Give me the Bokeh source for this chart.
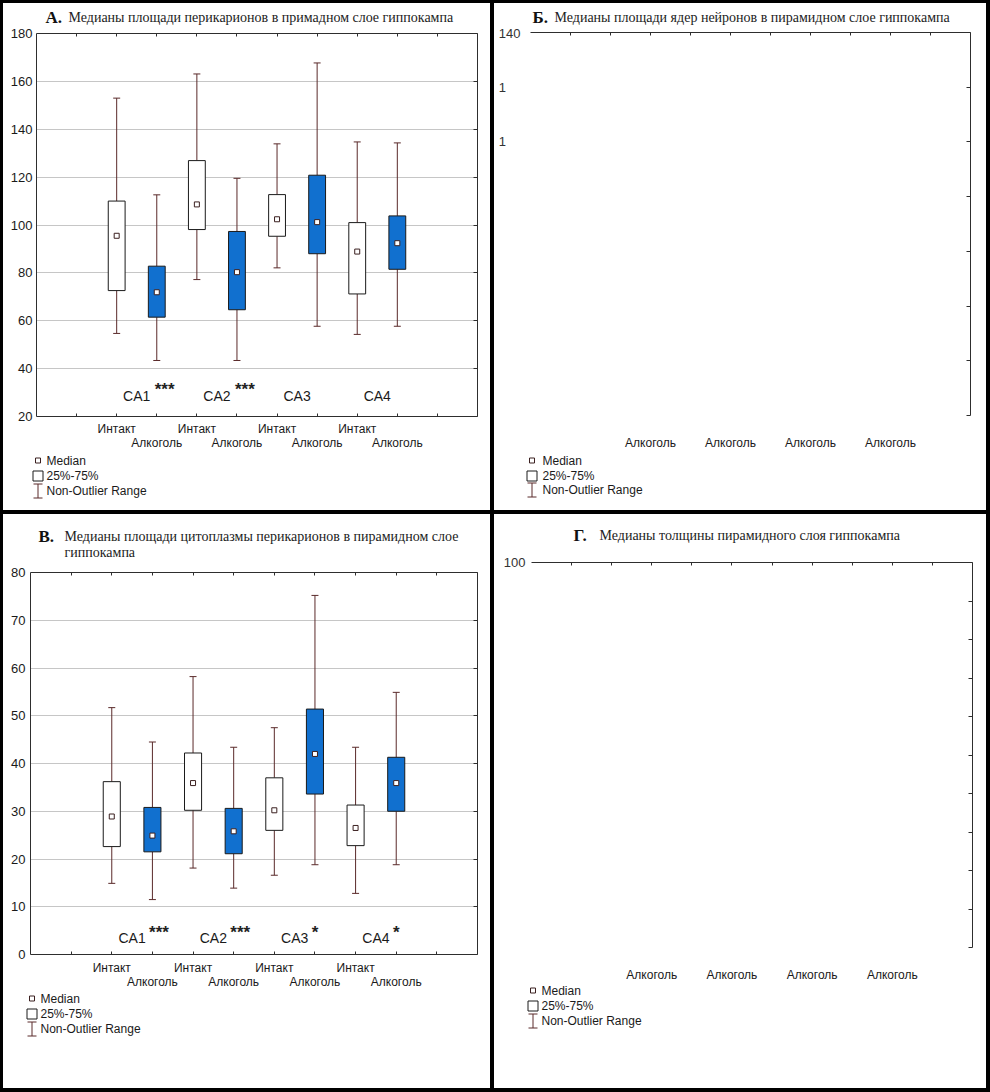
from bokeh.plotting import figure
from bokeh.models import Range1d, LinearAxis, FixedTicker, ColumnDataSource, Grid
from bokeh.layouts import row, column
from bokeh.embed import file_html
from bokeh.resources import INLINE
from bokeh.core.properties import value

# ---------------- data ----------------
groups = ["Интакт", "Алкоголь", "Интакт", "Алкоголь", "Интакт", "Алкоголь", "Интакт", "Алкоголь"]
regions = ["CA1", "CA2", "CA3", "CA4"]
box_x = [2, 3, 4, 5, 6, 7, 8, 9]
x_ticks = [1, 2, 3, 4, 5, 6, 7, 8, 9, 10]

# Panel A
a_letter = "А."
a_title = ["Медианы площади перикарионов в примадном слое гиппокампа"]
a_low = [54.7, 43.4, 77.2, 43.4, 82.1, 57.7, 54.3, 57.7]
a_q1 = [72.6, 61.5, 98.1, 64.6, 95.3, 88.0, 71.2, 81.5]
a_med = [95.5, 71.9, 108.6, 80.3, 102.4, 101.2, 88.9, 92.4]
a_q3 = [110.0, 82.8, 126.9, 97.3, 112.7, 120.8, 101.0, 103.8]
a_high = [153.0, 112.6, 163.1, 119.5, 133.9, 167.7, 134.7, 134.3]
a_stars = ["***", "***", "", ""]
a_yticks = [20, 40, 60, 80, 100, 120, 140, 160, 180]

# Panel Б (its content is missing in the source image)
b_letter = "Б."
b_title = ["Медианы площади ядер нейронов в пирамидном слое гиппокампа"]
b_yticks = [0, 20, 40, 60, 80, 100, 120, 140]
b_yfragments = ["", "", "", "", "", "1", "1", "140"]

# Panel В
c_letter = "В."
c_title = ["Медианы площади цитоплазмы перикарионов в пирамидном слое", "гиппокампа"]
c_low = [14.9, 11.5, 18.1, 13.9, 16.6, 18.8, 12.8, 18.8]
c_q1 = [22.6, 21.5, 30.2, 21.1, 26.0, 33.6, 22.8, 30.0]
c_med = [28.9, 24.9, 35.9, 25.8, 30.2, 42.0, 26.5, 35.9]
c_q3 = [36.2, 30.8, 42.2, 30.6, 37.0, 51.4, 31.3, 41.3]
c_high = [51.7, 44.5, 58.2, 43.4, 47.5, 75.2, 43.4, 54.9]
c_stars = ["***", "***", "*", "*"]
c_yticks = [0, 10, 20, 30, 40, 50, 60, 70, 80]

# Panel Г (its content is missing in the source image)
d_letter = "Г."
d_title = ["Медианы толщины пирамидного слоя гиппокампа"]
d_yticks = [0, 10, 20, 30, 40, 50, 60, 70, 80, 90, 100]
d_yfragments = ["", "", "", "", "", "", "", "", "", "", "100"]

legend_labels = ["Median", "25%-75%", "Non-Outlier Range"]

# ---------------- styles ----------------
LINE = "#2e2e2e"
GRID = "#c6c6c6"
WHISK = "#5a2a2a"
BOX_LINE = "#1a1a1a"
MED_LINE = "#3b2020"
BLUE = "#1170cf"
TXT = "#1a1a1a"
SANS = "Liberation Sans"
SERIF = "Liberation Serif"


def no_outline(p):
    p.outline_line_color = None
    p.outline_line_alpha = 0
    p.outline_line_width = 0
    return p


def blank(W, H):
    p = figure(width=W, height=H, x_range=Range1d(0, W), y_range=Range1d(H, 0),
               x_axis_type=None, y_axis_type=None, output_backend="svg",
               toolbar_location=None, min_border=0, min_border_left=0, min_border_right=0,
               min_border_top=0, min_border_bottom=0, frame_align=False,
               background_fill_color="white", border_fill_color="white")
    return no_outline(p)


def header(W, H, letter, lines, x_letter, x_text, ys):
    p = blank(W, H)
    p.text(x=[x_letter], y=[ys[0]], text=[letter], text_align="left", text_baseline="middle",
           text_font=value(SERIF), text_font_size="17px", text_font_style="bold",
           text_color="#111111")
    p.text(x=[x_text] * len(lines), y=ys, text=lines, text_align="left",
           text_baseline="middle", text_font=value(SERIF), text_font_size="14px",
           text_color="#222222")
    return p


def footer(W, H, sx, tx, ys):
    p = blank(W, H)
    sx = sx + 0.5
    p.scatter(x=[sx], y=[ys[0]], marker="square", size=5, fill_color="white",
              line_color=MED_LINE, line_width=1)
    p.rect(x=[sx], y=[ys[1] + 0.5], width=10, height=10, fill_color="white",
           line_color=BOX_LINE, line_width=1)
    yw = ys[2] + 0.5
    p.segment(x0=[sx, sx - 4.5, sx - 4.5], y0=[yw - 7, yw - 7, yw + 7],
              x1=[sx, sx + 4.5, sx + 4.5], y1=[yw + 7, yw - 7, yw + 7],
              line_color=WHISK, line_width=1)
    p.text(x=[tx] * 3, y=ys, text=legend_labels, text_align="left", text_baseline="middle",
           text_font=value(SANS), text_font_size="12px", text_color=TXT)
    return p


def main(W, H, bl, br, bt, bb, yticks, grid=True, left_labels=None, left_standoff=4,
         intact=True, int_standoff=5, alk_standoff=-3):
    p = figure(width=W, height=H, x_range=Range1d(0, 11),
               y_range=Range1d(yticks[0], yticks[-1]),
               x_axis_type=None, y_axis_type=None, output_backend="svg",
               toolbar_location=None, min_border_left=bl, min_border_right=br,
               min_border_top=bt, min_border_bottom=bb, frame_align=False,
               background_fill_color="white", border_fill_color="white")
    no_outline(p)
    if grid:
        p.add_layout(Grid(dimension=1, ticker=FixedTicker(ticks=yticks),
                          grid_line_color=GRID, grid_line_width=1))
    top = LinearAxis(ticker=FixedTicker(ticks=x_ticks), axis_line_color=LINE,
                     major_tick_line_color=LINE, major_tick_in=3, major_tick_out=0,
                     minor_tick_line_color=None, major_label_text_font_size="0px",
                     major_label_overrides={t: "" for t in x_ticks},
                     major_label_standoff=0)
    p.add_layout(top, "above")
    right = LinearAxis(ticker=FixedTicker(ticks=yticks), axis_line_color=LINE,
                       major_tick_line_color=LINE, major_tick_in=4, major_tick_out=0,
                       minor_tick_line_color=None, major_label_text_font_size="0px",
                       major_label_overrides={t: "" for t in yticks},
                       major_label_standoff=0)
    p.add_layout(right, "right")
    if left_labels is None:
        lax = LinearAxis(ticker=FixedTicker(ticks=yticks), axis_line_color=LINE,
                         major_tick_line_color=None, major_tick_in=0, major_tick_out=0,
                         minor_tick_line_color=None, major_label_text_font=SANS,
                         major_label_text_font_size="13px", major_label_text_color=TXT,
                         major_label_standoff=left_standoff)
    else:
        ov = {}
        for t, f in zip(yticks, left_labels):
            ov[t] = (f + "\u2007" * (3 - len(f))) if f else ""
        lax = LinearAxis(ticker=FixedTicker(ticks=yticks), axis_line_color=None,
                         major_tick_line_color=None, major_tick_in=0, major_tick_out=0,
                         minor_tick_line_color=None, major_label_overrides=ov,
                         major_label_text_font=SANS, major_label_text_font_size="13px",
                         major_label_text_color="#333333",
                         major_label_standoff=left_standoff)
    p.add_layout(lax, "left")
    if intact:
        ov = {t: "" for t in x_ticks}
        for xx, g in zip(box_x, groups):
            if g == "Интакт":
                ov[xx] = g
        ax1 = LinearAxis(ticker=FixedTicker(ticks=x_ticks), major_label_overrides=ov,
                         axis_line_color=LINE, major_tick_line_color=LINE,
                         major_tick_in=3, major_tick_out=0, minor_tick_line_color=None,
                         major_label_text_font=SANS, major_label_text_font_size="12px",
                         major_label_text_color=TXT, major_label_standoff=int_standoff)
        p.add_layout(ax1, "below")
    alk_x = [xx for xx, g in zip(box_x, groups) if g == "Алкоголь"]
    ax2 = LinearAxis(ticker=FixedTicker(ticks=alk_x),
                     major_label_overrides={xx: "Алкоголь" for xx in alk_x},
                     axis_line_color=None, major_tick_line_color=None,
                     major_tick_in=0, major_tick_out=0, minor_tick_line_color=None,
                     major_label_text_font=SANS, major_label_text_font_size="12px",
                     major_label_text_color=TXT, major_label_standoff=alk_standoff)
    p.add_layout(ax2, "below")
    return p


def boxes(p, lo, q1, med, q3, hi):
    fills = [BLUE if g == "Алкоголь" else "white" for g in groups]
    src = ColumnDataSource(dict(x=box_x, lo=lo, q1=q1, med=med, q3=q3, hi=hi, fill=fills))
    p.segment(x0="x", y0="q3", x1="x", y1="hi", source=src, line_color=WHISK, line_width=1)
    p.segment(x0="x", y0="lo", x1="x", y1="q1", source=src, line_color=WHISK, line_width=1)
    p.scatter(x="x", y="hi", source=src, marker="dash", size=7, line_color=WHISK, line_width=1)
    p.scatter(x="x", y="lo", source=src, marker="dash", size=7, line_color=WHISK, line_width=1)
    p.vbar(x="x", width=0.42, bottom="q1", top="q3", source=src, fill_color="fill",
           line_color=BOX_LINE, line_width=1)
    p.scatter(x="x", y="med", source=src, marker="square", size=5, fill_color="white",
              line_color=MED_LINE, line_width=1)


def region_labels(p, stars, ybase, up_ca, up_star, star_dx):
    mids = [(box_x[2 * i] + box_x[2 * i + 1]) / 2 for i in range(4)]
    p.text(x=mids, y=[ybase] * 4, text=regions, text_align="center", text_baseline="middle",
           y_offset=-up_ca, text_font=value(SANS), text_font_size="14px", text_color=TXT)
    p.text(x=mids, y=[ybase] * 4, text=stars, x_offset=star_dx, y_offset=-up_star,
           text_align="left", text_baseline="middle", text_font=value(SANS),
           text_font_size="17px", text_font_style="bold", text_color="#222222")


def panel(*figs):
    return column(*figs, spacing=0, styles={"background-color": "white"})


# ---------------- panels ----------------
# A (487 x 507)
hA = header(487, 23, a_letter, a_title, 42, 65, [14])
mA = main(487, 426, 33, 13, 7, 36, a_yticks, left_standoff=4,
          int_standoff=5, alk_standoff=-3)
boxes(mA, a_low, a_q1, a_med, a_q3, a_high)
region_labels(mA, a_stars, a_yticks[0], 21, 27, 18)
fA = footer(487, 58, 34, 43, [8, 23, 38])
panelA = panel(hA, mA, fA)

# Б (492 x 507)
hB = header(492, 22, b_letter, b_title, 38, 60, [13.5])
mB = main(492, 427, 36, 16, 7, 37, b_yticks, grid=False, left_labels=b_yfragments,
          left_standoff=10, intact=False, alk_standoff=20)
fB = footer(492, 58, 37, 48, [8, 23, 37])
panelB = panel(hB, mB, fB)

# В (487 x 574)
hC = header(487, 50, c_letter, c_title, 35, 61, [22, 38])
mC = main(487, 427, 27, 13, 8, 37, c_yticks, left_standoff=5,
          int_standoff=6, alk_standoff=-3)
boxes(mC, c_low, c_q1, c_med, c_q3, c_high)
region_labels(mC, c_stars, c_yticks[0], 17, 22, 17)
fC = footer(487, 97, 28, 37, [7, 22, 37])
panelC = panel(hC, mC, fC)

# Г (492 x 574)
hD = header(492, 40, d_letter, d_title, 79, 105, [21])
mD = main(492, 430, 37, 14, 8, 37, d_yticks, grid=False, left_labels=d_yfragments,
          left_standoff=6, intact=False, alk_standoff=20)
fD = footer(492, 104, 38, 47, [6, 21, 36])
panelD = panel(hD, mD, fD)

layout = row(column(panelA, panelC, spacing=4), column(panelB, panelD, spacing=4), spacing=4,
             styles={"background-color": "black", "padding": "3px 4px 4px 3px"})

open("out.html", "w").write(file_html(layout, INLINE))
